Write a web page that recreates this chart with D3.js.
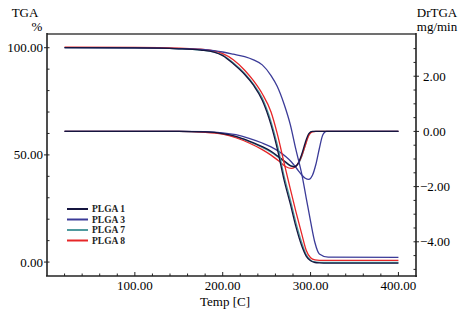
<!DOCTYPE html>
<html>
<head>
<meta charset="utf-8">
<script src="https://d3js.org/d3.v7.min.js"></script>
<style>
  body { margin: 0; background: #fff; }
  text { font-family: "Liberation Serif", "DejaVu Serif", serif; }
</style>
</head>
<body>
<div id="chart"></div>
<script>
// series names and colours
var seriesNames = ["PLGA 1", "PLGA 3", "PLGA 7", "PLGA 8"];
var seriesColors = ["#15153f", "#3b3b98", "#4f9a9e", "#e62628"];

// TGA (% mass) on a shared temperature grid
var tgaTemp = [20, 100, 150, 175, 190, 200, 212, 225, 235, 245, 255, 262, 270, 277, 283, 290, 295, 300, 305, 310, 320, 400];
var tgaPLGA1 = [100, 99.9, 99.5, 98.9, 98, 96.3, 92.5, 87.5, 82.5, 75.5, 64, 53, 38, 27, 17, 7.5, 2.8, 0.6, -0.2, -0.4, -0.5, -0.5];
var tgaPLGA3 = [100, 99.9, 99.6, 99.2, 98.6, 98, 97, 95.8, 94.3, 92, 87, 82, 73.5, 64, 53, 41, 30, 19, 9, 3.8, 2.3, 2.2];
var tgaPLGA7 = [100, 99.9, 99.5, 98.9, 98.1, 96.6, 93, 88, 83, 76.5, 65.5, 55, 40, 29, 19, 9, 3.5, 0.9, 0.1, -0.1, -0.2, -0.2];
var tgaPLGA8 = [100.3, 100.2, 99.8, 99.3, 98.5, 97.2, 94.4, 89.5, 84.6, 78.5, 70, 60, 46, 34, 24, 13, 5.5, 2, 1, 0.8, 0.8, 0.8];

// derivative TGA (mg/min)
var dtgTemp = [20, 150, 180, 200, 215, 230, 245, 255, 265, 272, 278, 282, 286, 290, 294, 298, 302, 306, 310, 314, 318, 400];
var dtgPLGA1 = [0, 0, -0.02, -0.08, -0.18, -0.35, -0.55, -0.72, -0.95, -1.12, -1.26, -1.28, -1.15, -0.82, -0.4, -0.08, 0, 0, 0, 0, 0, 0];
var dtgPLGA3 = [0, 0, -0.01, -0.05, -0.12, -0.25, -0.42, -0.56, -0.75, -0.92, -1.1, -1.25, -1.42, -1.58, -1.7, -1.74, -1.6, -1.2, -0.62, -0.12, 0, 0];
var dtgPLGA7 = [0, 0, -0.02, -0.09, -0.2, -0.37, -0.58, -0.75, -0.98, -1.14, -1.25, -1.26, -1.18, -0.9, -0.5, -0.12, -0.01, 0, 0, 0, 0, 0];
var dtgPLGA8 = [0, 0, -0.03, -0.1, -0.23, -0.42, -0.66, -0.86, -1.1, -1.28, -1.34, -1.3, -1.15, -0.88, -0.5, -0.15, -0.02, 0, 0, 0, 0, 0];

// tick values
var xTicks = [100, 200, 300, 400];
var leftTicks = [0, 50, 100];
var rightTicks = [-4, -2, 0, 2];

var tgaSeries = [tgaPLGA1, tgaPLGA3, tgaPLGA7, tgaPLGA8];
var dtgSeries = [dtgPLGA1, dtgPLGA3, dtgPLGA7, dtgPLGA8];
var drawOrder = [2, 3, 1, 0];

var W = 463, H = 311;
var plot = { left: 47, right: 416, top: 34, bottom: 276 };

var svg = d3.select("#chart").append("svg")
    .attr("width", W)
    .attr("height", H);

var x = d3.scaleLinear().domain([0, 420]).range([plot.left, plot.right]);
var yL = d3.scaleLinear().domain([-6.5, 106.4]).range([plot.bottom, plot.top]);
var yR = d3.scaleLinear().domain([-5.24, 3.53]).range([plot.bottom, plot.top]);

var fmt = d3.format(".2f");
var fmtR = function(d) { return fmt(d).replace("-", "\u2212"); };

// frame
svg.append("line")
    .attr("x1", plot.left).attr("x2", plot.right)
    .attr("y1", plot.top).attr("y2", plot.top)
    .attr("stroke", "#707070").attr("stroke-width", 2);

// bottom axis
var xAxis = svg.append("g").attr("transform", "translate(0," + plot.bottom + ")");
xAxis.append("line").attr("x1", plot.left - 1).attr("x2", plot.right + 1)
    .attr("stroke", "#222").attr("stroke-width", 1.6);
xAxis.selectAll(".minor").data(d3.range(20, 420, 20)).enter().append("line")
    .attr("x1", function(d) { return x(d); }).attr("x2", function(d) { return x(d); })
    .attr("y1", 0).attr("y2", function(d) { return d % 100 === 0 ? -4 : -2.5; })
    .attr("stroke", "#222").attr("stroke-width", 1);
xAxis.selectAll(".lbl").data(xTicks).enter().append("text")
    .attr("x", function(d) { return x(d); })
    .attr("y", 14)
    .attr("text-anchor", "middle")
    .style("font-size", "13px")
    .text(fmt);
svg.append("text")
    .attr("x", 225).attr("y", 306)
    .attr("text-anchor", "middle")
    .style("font-size", "13px")
    .text("Temp [C]");

// left axis
var lAxis = svg.append("g").attr("transform", "translate(" + plot.left + ",0)");
lAxis.append("line").attr("y1", plot.top - 1).attr("y2", plot.bottom)
    .attr("stroke", "#222").attr("stroke-width", 1.6);
lAxis.selectAll(".minor").data(d3.range(0, 101, 10)).enter().append("line")
    .attr("y1", function(d) { return yL(d); }).attr("y2", function(d) { return yL(d); })
    .attr("x1", function(d) { return d % 50 === 0 ? -3 : 0; }).attr("x2", 2.5)
    .attr("stroke", "#222").attr("stroke-width", 1);
lAxis.selectAll(".lbl").data(leftTicks).enter().append("text")
    .attr("x", -4)
    .attr("y", function(d) { return yL(d) + 4.5; })
    .attr("text-anchor", "end")
    .style("font-size", "13px")
    .text(fmt);
svg.append("text").attr("x", 25).attr("y", 17).attr("text-anchor", "middle")
    .style("font-size", "13px").text("TGA");
svg.append("text").attr("x", 37).attr("y", 31).attr("text-anchor", "middle")
    .style("font-size", "13px").text("%");

// right axis
var rAxis = svg.append("g").attr("transform", "translate(" + plot.right + ",0)");
rAxis.append("line").attr("y1", plot.top - 1).attr("y2", plot.bottom + 1)
    .attr("stroke", "#222").attr("stroke-width", 1.6);
rAxis.selectAll(".minor").data(d3.range(-5, 3.01, 0.5)).enter().append("line")
    .attr("y1", function(d) { return yR(d); }).attr("y2", function(d) { return yR(d); })
    .attr("x1", -2.5).attr("x2", function(d) { return d % 2 === 0 ? 3 : 0; })
    .attr("stroke", "#222").attr("stroke-width", 1);
rAxis.selectAll(".lbl").data(rightTicks).enter().append("text")
    .attr("x", function(d) { return d < 0 ? 4 : 7; })
    .attr("y", function(d) { return yR(d) + 4.5; })
    .attr("text-anchor", "start")
    .style("font-size", "13px")
    .text(fmtR);
svg.append("text").attr("x", 437).attr("y", 17).attr("text-anchor", "middle")
    .style("font-size", "13px").text("DrTGA");
svg.append("text").attr("x", 437).attr("y", 31).attr("text-anchor", "middle")
    .style("font-size", "13px").text("mg/min");

// curves
var tgaLine = d3.line()
    .x(function(d, i) { return x(tgaTemp[i]); })
    .y(function(d) { return yL(d); })
    .curve(d3.curveMonotoneX);
var dtgLine = d3.line()
    .x(function(d, i) { return x(dtgTemp[i]); })
    .y(function(d) { return yR(d); })
    .curve(d3.curveMonotoneX);

var curves = svg.append("g");
drawOrder.forEach(function(k) {
    curves.append("path")
        .attr("d", dtgLine(dtgSeries[k]))
        .attr("fill", "none")
        .attr("stroke", seriesColors[k])
        .attr("stroke-width", 1.3);
});
drawOrder.forEach(function(k) {
    curves.append("path")
        .attr("d", tgaLine(tgaSeries[k]))
        .attr("fill", "none")
        .attr("stroke", seriesColors[k])
        .attr("stroke-width", 1.3);
});

// legend
var legend = svg.append("g").attr("transform", "translate(65,209)");
seriesNames.forEach(function(name, i) {
    var g = legend.append("g").attr("transform", "translate(0," + (i * 10.5) + ")");
    g.append("line").attr("x1", 2).attr("x2", 23)
        .attr("stroke", seriesColors[i]).attr("stroke-width", 2);
    g.append("text").attr("x", 27).attr("y", 3.3)
        .style("font-size", "9.5px").style("font-weight", "bold")
        .attr("fill", "#222")
        .text(name);
});
</script>
</body>
</html>
